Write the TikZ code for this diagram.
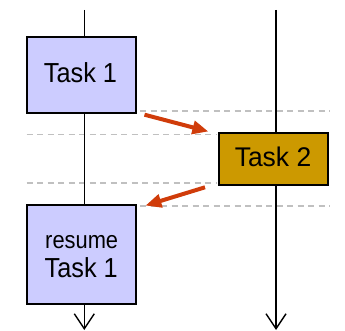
\documentclass[tikz,border=0pt]{standalone}
\usepackage{fontspec}
\setmainfont{Liberation Sans}
\newfontfamily\taskfont[FakeStretch=0.92]{Liberation Sans}
\newfontfamily\resumefont[FakeStretch=0.9]{Liberation Sans}
\newfontfamily\wideTaskfont[FakeStretch=0.98]{Liberation Sans}
\usetikzlibrary{arrows.meta}
\definecolor{taskblue}{HTML}{CCCCFF}
\definecolor{taskgold}{HTML}{CC9900}
\definecolor{switchred}{HTML}{D03C0A}
\definecolor{dashgray}{HTML}{C0C0C0}
\begin{document}
\begin{tikzpicture}[x=1pt,y=-1pt,
  taskbox/.style={draw=black, line width=1.8pt, minimum width=108.3pt, inner sep=0pt},
  tasktext/.style={anchor=base, inner sep=0pt, font=\taskfont\fontsize{27.5pt}{30pt}\selectfont},
  timeline/.style={line width=1.4pt},
  flowend/.style={timeline, -{Straight Barb[length=15pt,width=20pt,line width=1.4pt]}},
  switcharrow/.style={draw=switchred, line width=4pt, -{Triangle[length=16pt,width=13pt]}, shorten >=-2pt},
  sepline/.style={draw=dashgray, line width=1.4pt, dash pattern=on 6pt off 4.5pt}]
\useasboundingbox (0,0) rectangle (345,331);
% dashed separators
\coordinate (d1a) at (140,111);    \coordinate (d1b) at (330,111);
\coordinate (d2a) at (26.7,134.3); \coordinate (d2b) at (216.7,134.3);
\coordinate (d3a) at (26.7,183);   \coordinate (d3b) at (216.7,183);
\coordinate (d4a) at (140,206);    \coordinate (d4b) at (330,206);
\draw[sepline] (d1a) -- (d1b);
\draw[sepline] (d2a) -- (d2b);
\draw[sepline] (d3a) -- (d3b);
\draw[sepline] (d4a) -- (d4b);
% boxes
\node[taskbox, fill=taskblue, minimum height=76pt] (t1) at (81.5,75.3) {};
\node[tasktext] (t1txt) at (80.5,82.3) {Task 1};
\node[taskbox, fill=taskgold, minimum width=109pt, minimum height=51.7pt] (t2) at (273.2,159.2) {};
\node[tasktext, font=\wideTaskfont\fontsize{27pt}{30pt}\selectfont] (t2txt) at (273,166.7) {Task 2};
\node[taskbox, fill=taskblue, minimum height=99.6pt] (r1) at (81.5,254.5) {};
\node[tasktext, font=\resumefont\fontsize{24.3pt}{28pt}\selectfont] (r1a) at (81.7,248.3) {resume};
\node[tasktext] (r1b) at (81.2,277.3) {Task 1};
% timelines
\coordinate (ltop) at (84.3,10);
\coordinate (rtop) at (276,10);
\coordinate (lbot) at (84.3,330);
\coordinate (rbot) at (276,330);
\draw[timeline] (ltop) -- (ltop |- t1.north);
\draw[timeline] (ltop |- t1.south) -- (ltop |- r1.north);
\draw[flowend] (ltop |- r1.south) -- (lbot);
\draw[timeline] (rtop) -- (rtop |- t2.north);
\draw[flowend] (rtop |- t2.south) -- (rbot);
% context switch arrows
\coordinate (a1s) at (144.5,114.7);
\coordinate (a1e) at (206.5,131);
\coordinate (a2s) at (205,187.3);
\coordinate (a2e) at (147.3,205);
\draw[switcharrow] (a1s) -- (a1e);
\draw[switcharrow] (a2s) -- (a2e);
\end{tikzpicture}
\end{document}
